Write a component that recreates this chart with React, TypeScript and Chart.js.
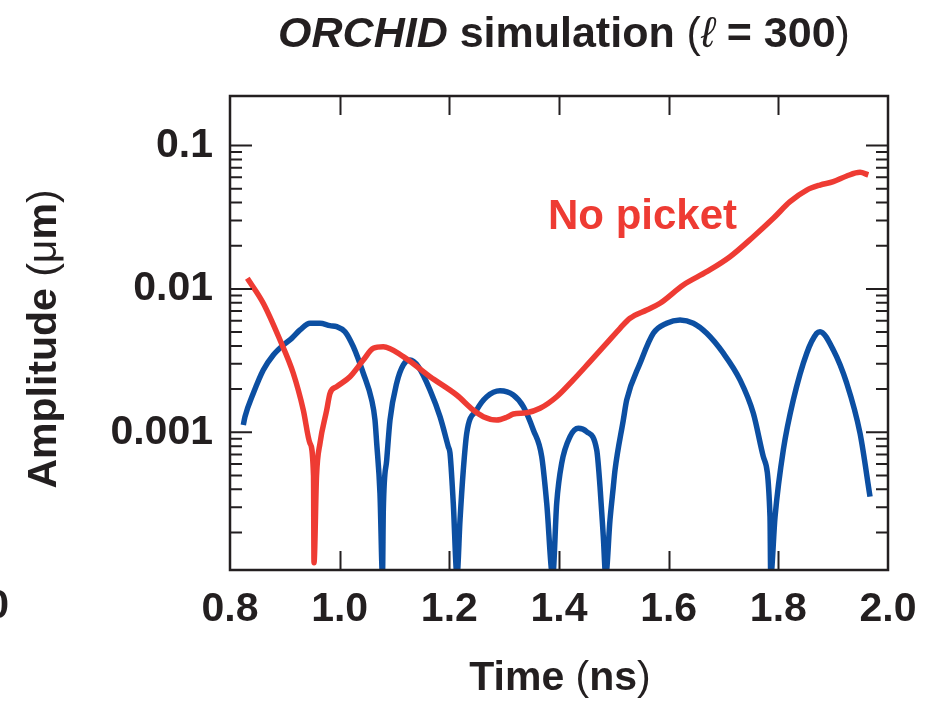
import React, { useEffect, useRef } from "react";
import { Chart, registerables } from "chart.js";

Chart.register(...registerables);

// ---- data (time in ns, amplitude in µm) ----
const redTime = [0.8316, 0.8607, 0.8912, 0.9154, 0.9337, 0.9459, 0.9523, 0.9532, 0.9578, 0.9641, 0.9764, 0.9824, 0.9946, 1.0188, 1.0431, 1.0613, 1.0796, 1.1161, 1.1648, 1.2134, 1.2437, 1.262, 1.2864, 1.3046, 1.3167, 1.3411, 1.3654, 1.3958, 1.4261, 1.4566, 1.487, 1.5113, 1.5295, 1.56, 1.5842, 1.6267, 1.6694, 1.7119, 1.7544, 1.7909, 1.8213, 1.8518, 1.876, 1.9003, 1.9247, 1.949, 1.9641];
const redAmp = [0.01186, 0.00794, 0.0044, 0.00258, 0.00143, 0.000838, 0.000496, 0.000123, 0.000496, 0.000838, 0.00143, 0.00187, 0.00208, 0.00244, 0.00319, 0.00385, 0.00395, 0.00337, 0.00244, 0.00182, 0.00143, 0.001285, 0.001218, 0.001272, 0.001342, 0.00137, 0.00147, 0.00177, 0.00232, 0.00311, 0.00418, 0.00531, 0.00624, 0.00713, 0.00794, 0.01065, 0.01318, 0.01677, 0.02312, 0.03107, 0.04056, 0.0489, 0.053, 0.0559, 0.0613, 0.065, 0.0623];

const blueTime = [0.8243, 0.8274, 0.8425, 0.8607, 0.879, 0.8972, 0.9125, 0.9277, 0.9459, 0.9641, 0.9824, 0.9946, 1.0097, 1.0249, 1.0431, 1.0584, 1.0644, 1.0675, 1.0735, 1.0781, 1.0796, 1.0858, 1.0918, 1.104, 1.1161, 1.1283, 1.1434, 1.1648, 1.183, 1.1981, 1.2012, 1.2072, 1.214, 1.2195, 1.2255, 1.2317, 1.2499, 1.2682, 1.2924, 1.3167, 1.3349, 1.3532, 1.3685, 1.3776, 1.3885, 1.3958, 1.4049, 1.4201, 1.4352, 1.4505, 1.4688, 1.4748, 1.4808, 1.4852, 1.493, 1.4991, 1.5022, 1.5173, 1.5235, 1.5478, 1.572, 1.5964, 1.6207, 1.645, 1.6694, 1.6997, 1.7301, 1.7544, 1.7726, 1.7848, 1.7861, 1.794, 1.8091, 1.8273, 1.8518, 1.87, 1.876, 1.9003, 1.9247, 1.949, 1.9672];
const blueAmp = [0.001125, 0.001285, 0.00187, 0.00272, 0.00346, 0.00406, 0.00452, 0.00517, 0.00576, 0.00576, 0.00554, 0.00545, 0.00503, 0.00395, 0.00258, 0.00168, 0.001218, 0.000842, 0.000377, 0.0001, 0.000287, 0.000641, 0.001218, 0.0022, 0.00295, 0.00319, 0.00287, 0.00197, 0.001285, 0.000793, 0.000717, 0.00032, 0.0001, 0.000245, 0.000546, 0.000984, 0.00143, 0.00177, 0.00195, 0.00182, 0.00151, 0.001038, 0.000676, 0.00032, 0.0001, 0.00032, 0.000608, 0.000932, 0.001066, 0.00101, 0.000753, 0.000418, 0.000187, 0.0001, 0.000245, 0.000418, 0.000546, 0.001218, 0.00168, 0.00303, 0.0049, 0.00576, 0.00607, 0.00576, 0.0049, 0.00356, 0.00232, 0.001357, 0.000676, 0.000258, 0.0001, 0.000258, 0.000753, 0.00168, 0.00356, 0.0049, 0.00503, 0.00375, 0.0022, 0.000984, 0.000356];

const xTickValues = [0.8, 1.0, 1.2, 1.4, 1.6, 1.8, 2.0];
const xTickLabels = ["0.8", "1.0", "1.2", "1.4", "1.6", "1.8", "2.0"];
const yTickValues = [0.001, 0.01, 0.1];
const yTickLabels = ["0.001", "0.01", "0.1"];
const yMinorTicks = [0.0002, 0.0003, 0.0004, 0.0005, 0.0006, 0.0007, 0.0008, 0.0009, 0.002, 0.003, 0.004, 0.005, 0.006, 0.007, 0.008, 0.009, 0.02, 0.03, 0.04, 0.05, 0.06, 0.07, 0.08, 0.09];

const seriesLabel = "No picket";
const titleParts = [
  { text: "ORCHID", style: "italic bold" },
  { text: " simulation ", style: "bold" },
  { text: "(", style: "normal" },
  { text: "\u2113", style: "italic normal" },
  { text: " = 300", style: "bold" },
  { text: ")", style: "normal" },
];
const yTitleParts = [
  { text: "Amplitude ", style: "bold" },
  { text: "(", style: "normal" },
  { text: "\u03bc", style: "normal" },
  { text: "m", style: "bold" },
  { text: ")", style: "normal" },
];
const xTitleParts = [
  { text: "Time ", style: "bold" },
  { text: "(", style: "normal" },
  { text: "ns", style: "bold" },
  { text: ")", style: "normal" },
];

const RED = "#EE3B33";
const BLUE = "#0C4FA2";
const INK = "#231F20";
const FAMILY = '"Liberation Sans", Arial, Helvetica, sans-serif';
const FS = 41;

function font(style: string, size = FS) {
  return `${style} ${size}px ${FAMILY}`;
}

function drawParts(ctx: CanvasRenderingContext2D, parts: { text: string; style: string }[], cx: number, baseline: number, size = FS) {
  let total = 0;
  for (const p of parts) {
    ctx.font = font(p.style, size);
    total += ctx.measureText(p.text).width;
  }
  let x = cx - total / 2;
  ctx.textAlign = "left";
  ctx.textBaseline = "alphabetic";
  for (const p of parts) {
    ctx.font = font(p.style, size);
    ctx.fillText(p.text, x, baseline);
    x += ctx.measureText(p.text).width;
  }
}

const framePlugin = {
  id: "frame",
  afterDraw(chart: any) {
    const { ctx, chartArea, scales } = chart;
    const { left, right, top, bottom } = chartArea;
    const x = scales.x;
    const y = scales.y;
    ctx.save();
    ctx.strokeStyle = INK;
    ctx.lineWidth = 2;
    ctx.beginPath();
    for (const v of xTickValues.slice(1, -1)) {
      const px = Math.round(x.getPixelForValue(v)) + 0.5;
      ctx.moveTo(px, bottom);
      ctx.lineTo(px, bottom - 19);
      ctx.moveTo(px, top);
      ctx.lineTo(px, top + 19);
    }
    for (const v of yTickValues) {
      const py = y.getPixelForValue(v);
      ctx.moveTo(left, py);
      ctx.lineTo(left + 22, py);
      ctx.moveTo(right, py);
      ctx.lineTo(right - 22, py);
    }
    for (const v of yMinorTicks) {
      const py = y.getPixelForValue(v);
      ctx.moveTo(left, py);
      ctx.lineTo(left + 12, py);
      ctx.moveTo(right, py);
      ctx.lineTo(right - 12, py);
    }
    ctx.stroke();
    ctx.lineWidth = 2.5;
    ctx.strokeRect(left, top, right - left, bottom - top);

    ctx.fillStyle = INK;
    // title
    drawParts(ctx, titleParts, 564, 47, 43);
    // x title
    drawParts(ctx, xTitleParts, 560, 690);
    // y title (rotated)
    ctx.save();
    ctx.translate(56, 339);
    ctx.rotate(-Math.PI / 2);
    drawParts(ctx, yTitleParts, 0, 0);
    ctx.restore();
    // series annotation
    ctx.fillStyle = RED;
    ctx.font = font("bold", 42);
    ctx.textAlign = "left";
    ctx.textBaseline = "alphabetic";
    ctx.fillText(seriesLabel, 548, 229);
    // neighbouring panel's cut-off label at the far left
    ctx.fillStyle = INK;
    ctx.font = font("bold");
    ctx.textAlign = "right";
    ctx.textBaseline = "middle";
    ctx.fillText(xTickLabels[xTickLabels.length - 1], 9, 607);
    ctx.restore();
  },
};

export default function App() {
  const ref = useRef<HTMLCanvasElement | null>(null);
  useEffect(() => {
    document.body.style.margin = "0";
    const canvas = ref.current;
    if (!canvas) return;
    const chart = new Chart(canvas, {
      type: "line",
      data: {
        datasets: [
          {
            label: seriesLabel,
            data: redTime.map((t, i) => ({ x: t, y: redAmp[i] })),
            borderColor: RED,
            borderWidth: 5.5,
            pointRadius: 0,
            fill: false,
            cubicInterpolationMode: "monotone",
          },
          {
            label: "Picket",
            data: blueTime.map((t, i) => ({ x: t, y: blueAmp[i] })),
            borderColor: BLUE,
            borderWidth: 5.5,
            pointRadius: 0,
            fill: false,
            cubicInterpolationMode: "monotone",
          },
        ],
      },
      options: {
        animation: false,
        responsive: false,
        maintainAspectRatio: false,
        layout: { padding: { left: 0, right: 46, top: 96, bottom: 0 } },
        plugins: {
          legend: { display: false },
          title: { display: false },
          tooltip: { enabled: false },
        },
        scales: {
          x: {
            type: "linear",
            min: 0.8,
            max: 2.0,
            grid: { display: false },
            border: { display: false },
            afterBuildTicks: (s: any) => {
              s.ticks = xTickValues.map((v) => ({ value: v }));
            },
            afterFit: (s: any) => {
              s.height = 131;
            },
            ticks: {
              autoSkip: false,
              maxRotation: 0,
              padding: 7,
              color: INK,
              font: { family: FAMILY, size: FS, weight: "bold" },
              callback: (_v: any, i: number) => xTickLabels[i],
            },
          },
          y: {
            type: "logarithmic",
            min: 1.0955e-4,
            max: 0.2214,
            grid: { display: false },
            border: { display: false },
            afterBuildTicks: (s: any) => {
              s.ticks = yTickValues.map((v) => ({ value: v }));
            },
            afterFit: (s: any) => {
              s.width = 230;
            },
            ticks: {
              autoSkip: false,
              padding: 9,
              color: INK,
              font: { family: FAMILY, size: FS, weight: "bold" },
              callback: (_v: any, i: number) => yTickLabels[i],
            },
          },
        },
      },
      plugins: [framePlugin],
    } as any);
    return () => chart.destroy();
  }, []);
  return <canvas ref={ref} width={934} height={701} style={{ display: "block" }} />;
}
